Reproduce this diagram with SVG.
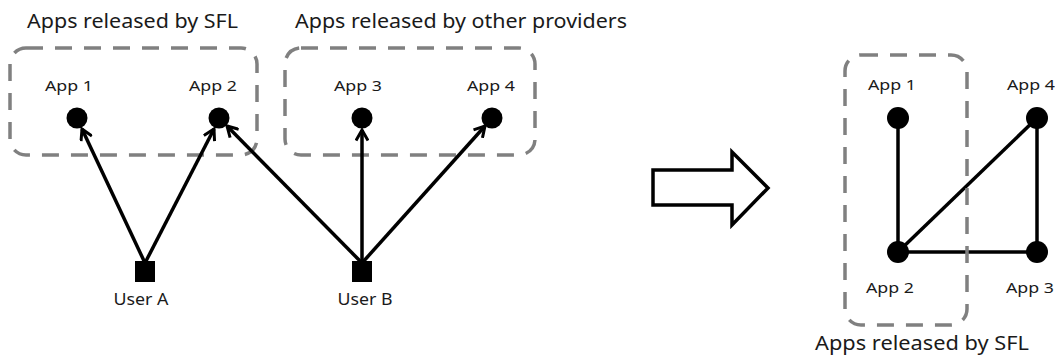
<svg xmlns="http://www.w3.org/2000/svg" width="1055" height="356" viewBox="0 0 1055 356">
<defs>
<style>
.grp{fill:none;stroke:#808080;stroke-width:3.5;stroke-dasharray:17 12}
.t{font-family:"Noto Sans","Open Sans",sans-serif;fill:#1a1a1a}
.title{font-size:19px}
.lbl{font-size:15px}
.usr{font-size:15.5px}
.dot{fill:#000}
.edge{stroke:#000;stroke-width:3.5;fill:none}
</style>
<marker id="ah" viewBox="0 0 14 14" refX="12" refY="7" markerWidth="14" markerHeight="14" markerUnits="userSpaceOnUse" orient="auto">
<path d="M1.5,1 L12,7 L1.5,13" fill="none" stroke="#000" stroke-width="3"/>
</marker>
</defs>
<rect width="1055" height="356" fill="#fff"/>

<g id="group-sfl">
<rect class="grp" x="10" y="48" width="247" height="107" rx="16"/>
<text class="t title" x="27" y="28" textLength="211" lengthAdjust="spacingAndGlyphs">Apps released by SFL</text>
</g>
<g id="group-other">
<rect class="grp" x="285" y="48" width="250" height="107" rx="16"/>
<text class="t title" x="295" y="28" textLength="332" lengthAdjust="spacingAndGlyphs">Apps released by other providers</text>
</g>

<g id="app1-left"><circle class="dot" cx="77" cy="118" r="10.5"/><text class="t lbl" x="69" y="91" text-anchor="middle" textLength="48" lengthAdjust="spacingAndGlyphs">App 1</text></g>
<g id="app2-left"><circle class="dot" cx="219" cy="118" r="10.5"/><text class="t lbl" x="213" y="91" text-anchor="middle" textLength="48" lengthAdjust="spacingAndGlyphs">App 2</text></g>
<g id="app3-left"><circle class="dot" cx="362" cy="118" r="10.5"/><text class="t lbl" x="358" y="91" text-anchor="middle" textLength="48" lengthAdjust="spacingAndGlyphs">App 3</text></g>
<g id="app4-left"><circle class="dot" cx="492" cy="118" r="10.5"/><text class="t lbl" x="491" y="91" text-anchor="middle" textLength="48" lengthAdjust="spacingAndGlyphs">App 4</text></g>

<g id="userA"><rect x="135" y="261" width="20" height="21" fill="#000"/><text class="t usr" x="141" y="305" text-anchor="middle" textLength="55" lengthAdjust="spacingAndGlyphs">User A</text></g>
<g id="userB"><rect x="352" y="261" width="20" height="21" fill="#000"/><text class="t usr" x="365" y="305" text-anchor="middle" textLength="55" lengthAdjust="spacingAndGlyphs">User B</text></g>

<g id="connectors">
<line class="edge" x1="145" y1="263" x2="82" y2="129" marker-end="url(#ah)"/>
<line class="edge" x1="145" y1="263" x2="214" y2="129" marker-end="url(#ah)"/>
<line class="edge" x1="362" y1="263" x2="227" y2="126" marker-end="url(#ah)"/>
<line class="edge" x1="362" y1="263" x2="362" y2="130" marker-end="url(#ah)"/>
<line class="edge" x1="362" y1="263" x2="485" y2="126" marker-end="url(#ah)"/>
<line class="edge" x1="898" y1="118" x2="898" y2="252"/>
<line class="edge" x1="898" y1="252" x2="1037" y2="252"/>
<line class="edge" x1="1037" y1="252" x2="1037" y2="118"/>
<line class="edge" x1="898" y1="252" x2="1037" y2="118"/>
</g>

<g id="transform-arrow">
<polygon points="653,170 732,170 732,152 768,188 732,225 732,205 653,205" fill="#fff" stroke="#000" stroke-width="3.5" stroke-linejoin="miter"/>
</g>

<g id="group-sfl-right">
<rect class="grp" x="845" y="55" width="122" height="270" rx="16"/>
<text class="t title" x="815" y="350" textLength="214" lengthAdjust="spacingAndGlyphs">Apps released by SFL</text>
</g>
<g id="app1-right"><circle class="dot" cx="898" cy="118" r="11"/><text class="t lbl" x="892" y="90" text-anchor="middle" textLength="48" lengthAdjust="spacingAndGlyphs">App 1</text></g>
<g id="app4-right"><circle class="dot" cx="1037" cy="118" r="11"/><text class="t lbl" x="1031" y="90" text-anchor="middle" textLength="48" lengthAdjust="spacingAndGlyphs">App 4</text></g>
<g id="app2-right"><circle class="dot" cx="898" cy="252" r="11"/><text class="t lbl" x="890" y="293" text-anchor="middle" textLength="48" lengthAdjust="spacingAndGlyphs">App 2</text></g>
<g id="app3-right"><circle class="dot" cx="1037" cy="252" r="11"/><text class="t lbl" x="1030" y="293" text-anchor="middle" textLength="48" lengthAdjust="spacingAndGlyphs">App 3</text></g>
</svg>
